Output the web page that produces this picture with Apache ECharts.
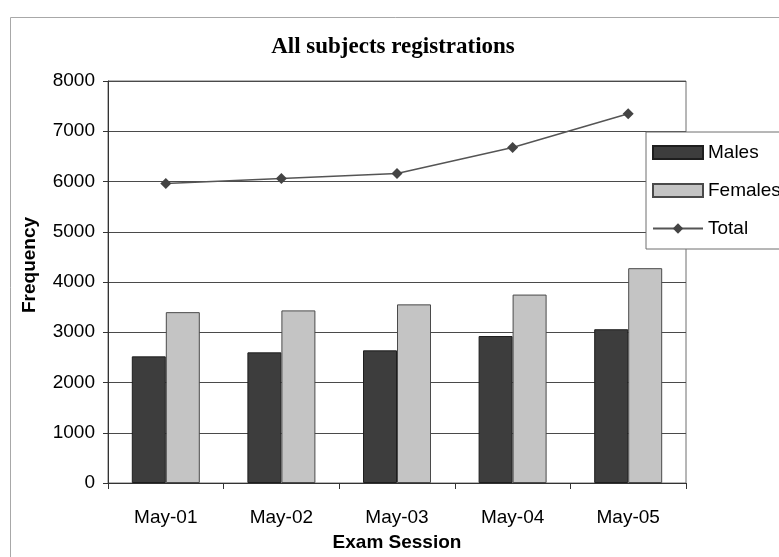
<!DOCTYPE html>
<html>
<head>
<meta charset="utf-8">
<script src="https://cdn.jsdelivr.net/npm/echarts@6/dist/echarts.min.js"></script>
<style>
  html, body { margin: 0; padding: 0; background: #fff; }
  #chart { width: 779px; height: 557px; }
</style>
</head>
<body>
<div id="chart"></div>
<script>
// Registrations per exam session
const sessions = ['May-01', 'May-02', 'May-03', 'May-04', 'May-05'];
const males = [2520, 2600, 2640, 2925, 3060];
const females = [3400, 3435, 3555, 3750, 4275];
const totals = [5960, 6060, 6160, 6675, 7350];
const yTicks = { min: 0, max: 8000, step: 1000 };

const sans = '"Liberation Sans", Arial, sans-serif';
const serif = '"Liberation Serif", "Times New Roman", serif';

const chart = echarts.init(document.getElementById('chart'), null, { renderer: 'canvas' });

chart.setOption({
  animation: false,
  backgroundColor: '#fff',
  grid: {
    left: 108, top: 81, right: 93, bottom: 74,
    show: true, borderColor: '#6e6e6e', borderWidth: 1,
    backgroundColor: 'transparent', containLabel: false
  },
  graphic: [
    {
      // outer chart frame
      type: 'rect', z: -10, silent: true,
      shape: { x: 10.5, y: 17.5, width: 800, height: 600 },
      style: { fill: 'transparent', stroke: '#a8a8a8', lineWidth: 1 }
    },
    {
      type: 'text', silent: true,
      position: [393, 47],
      style: {
        text: 'All subjects registrations',
        x: 0, y: 0,
        font: 'bold 23px ' + serif, fill: '#000',
        textAlign: 'center', textVerticalAlign: 'middle'
      }
    },
    {
      type: 'text', silent: true,
      position: [30, 265], rotation: Math.PI / 2,
      style: {
        text: 'Frequency', x: 0, y: 0,
        font: 'bold 19px ' + sans, fill: '#000',
        textAlign: 'center', textVerticalAlign: 'middle'
      }
    }
  ],
  legend: {
    orient: 'vertical',
    left: 646, top: 132,
    padding: [11, 30, 11, 6],
    itemWidth: 50, itemHeight: 13, itemGap: 19, itemTextGap: 7,
    backgroundColor: '#fff',
    borderColor: '#6e6e6e', borderWidth: 1,
    textStyle: { fontFamily: sans, fontSize: 19, color: '#000', lineHeight: 19 },
    data: [
      { name: 'Males', icon: 'rect' },
      { name: 'Females', icon: 'rect' },
      { name: 'Total' }
    ]
  },
  xAxis: {
    type: 'category',
    data: sessions,
    boundaryGap: true,
    axisLine: { lineStyle: { color: '#333', width: 1 } },
    axisTick: { show: true, inside: false, length: 6, lineStyle: { color: '#333' } },
    axisLabel: { margin: 25, fontFamily: sans, fontSize: 19, color: '#000' },
    name: 'Exam Session',
    nameLocation: 'middle',
    nameGap: 50,
    nameTextStyle: { fontFamily: sans, fontSize: 19, fontWeight: 'bold', color: '#000' }
  },
  yAxis: {
    type: 'value',
    min: yTicks.min, max: yTicks.max, interval: yTicks.step,
    axisLine: { show: true, lineStyle: { color: '#333', width: 1 } },
    axisTick: { show: true, inside: false, length: 5, lineStyle: { color: '#333' } },
    axisLabel: {
      margin: 13, fontFamily: sans, fontSize: 19, color: '#000',
      formatter: (v) => String(v)
    },
    splitLine: { show: true, lineStyle: { color: '#4a4a4a', width: 1 } }
  },
  series: [
    {
      name: 'Males', type: 'bar', data: males,
      barWidth: 34, barGap: '0%',
      itemStyle: { color: '#3d3d3d', borderColor: '#1e1e1e', borderWidth: 1 }
    },
    {
      name: 'Females', type: 'bar', data: females,
      barWidth: 34, barGap: '0%',
      itemStyle: { color: '#c4c4c4', borderColor: '#4a4a4a', borderWidth: 1 }
    },
    {
      name: 'Total', type: 'line', data: totals,
      symbol: 'diamond', symbolSize: 11,
      lineStyle: { color: '#555', width: 1.5 },
      itemStyle: { color: '#444' }
    }
  ]
});
</script>
</body>
</html>
